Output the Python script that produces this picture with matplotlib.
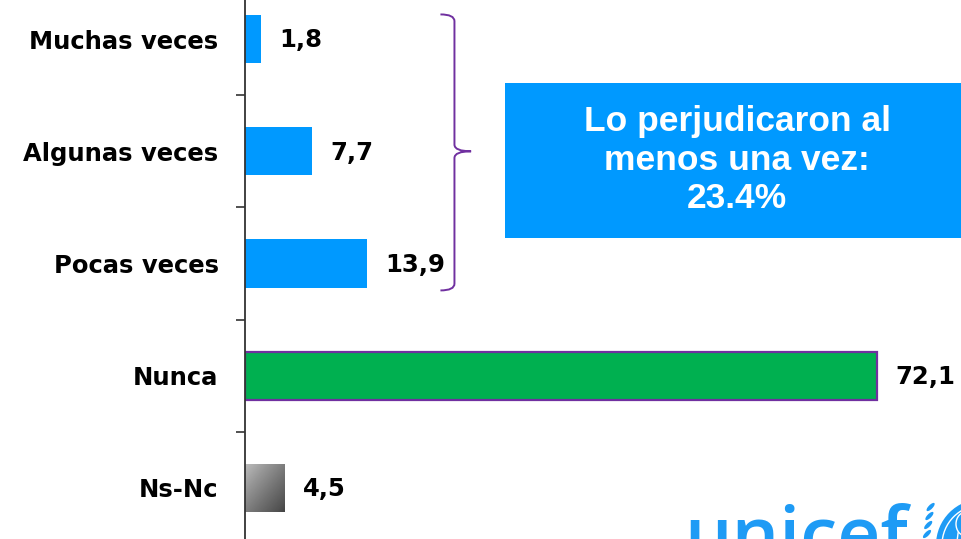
"""Horizontal bars: how often they were harmed (UNICEF survey slide)."""

import numpy as np
import matplotlib.pyplot as plt
from matplotlib.patches import Rectangle, Ellipse, PathPatch
from matplotlib.path import Path

categories = ["Muchas veces", "Algunas veces", "Pocas veces", "Nunca", "Ns-Nc"]
values = [1.8, 7.7, 13.9, 72.1, 4.5]
colors = ["#0099FF", "#0099FF", "#0099FF", "#00B050", None]
box_text = "Lo perjudicaron al\nmenos una vez:\n23.4%"

BLUE = "#0099FF"
PURPLE = "#7030A0"
LOGO = "#1E9BF5"

W, H = 961, 539
fig = plt.figure(figsize=(W / 100, H / 100), dpi=100)
# axes runs past the top/bottom/right of the slide crop
ax = fig.add_axes([245 / W, -5 / H, (W - 245) / W, 561 / H])

y = np.arange(len(categories))
bars = ax.barh(y, values, height=0.43, color=[c or "none" for c in colors],
               edgecolor="none", zorder=2)
bars[3].set_edgecolor(PURPLE)
bars[3].set_linewidth(1.6)

# gradient fill for the Ns-Nc bar
gb = bars[4]
gx, gy = gb.get_x(), gb.get_y()
gw, gh = gb.get_width(), gb.get_height()
xx, yy = np.meshgrid(np.linspace(0, 1, 64), np.linspace(0, 1, 64))
grad = (xx + yy) / 2
im = ax.imshow(grad, cmap="Greys", vmin=-0.9, vmax=1.5, aspect="auto",
               extent=[gx, gx + gw, gy + gh, gy], origin="upper", zorder=2)
im.set_clip_path(gb)

ax.set_xlim(0, 81.7)
ax.set_ylim(len(categories) - 0.5, -0.5)

for i, v in enumerate(values):
    ax.annotate(f"{v:.1f}".replace(".", ","), (v, i), xytext=(13, -1),
                textcoords="offset points", va="center", ha="left",
                fontsize=17.5, fontweight="bold", family="DejaVu Sans")

ax.set_yticks(y, categories, fontsize=17.5, fontweight="bold", family="DejaVu Sans")
ax.tick_params(axis="y", which="major", length=0, pad=19)
ax.set_yticks(np.arange(-0.5, len(categories), 1), minor=True)
ax.tick_params(axis="y", which="minor", length=6.5, width=1.2, color="#333333")
ax.set_xticks([])
for s in ["top", "right", "bottom"]:
    ax.spines[s].set_visible(False)
ax.spines["left"].set_color("#333333")
ax.spines["left"].set_linewidth(1.3)

# curly brace over the first three bars
bx, hook, tip = 23.9, 22.3, 25.8
top, mid, bot = -0.22, 1.0, 2.24
r = 0.06
verts = [
    (hook, top), (bx, top), (bx, top + r),
    (bx, mid - r), (bx, mid), (tip, mid),
    (bx, mid), (bx, mid + r),
    (bx, bot - r), (bx, bot), (hook, bot),
]
codes = [Path.MOVETO, Path.CURVE3, Path.CURVE3,
         Path.LINETO, Path.CURVE3, Path.CURVE3,
         Path.CURVE3, Path.CURVE3,
         Path.LINETO, Path.CURVE3, Path.CURVE3]
ax.add_patch(PathPatch(Path(verts, codes), facecolor="none",
                       edgecolor=PURPLE, lw=1.4, zorder=3))

# summary box
fig.patches.append(Rectangle((505 / W, 1 - 238 / H), (W - 505) / W, 155 / H,
                             transform=fig.transFigure, facecolor=BLUE,
                             edgecolor="none", zorder=1))
fig.text(737 / W, 1 - 160 / H, box_text, ha="center", va="center",
         color="white", fontsize=25.5, fontweight="bold",
         family="Liberation Sans", linespacing=1.22)

# unicef logo, cut off at the bottom right
fig.text(684 / W, 1 - 559 / H, "unicef", color=LOGO, fontsize=54,
         fontweight="semibold", family="Open Sans", ha="left", va="baseline")


def logo_ellipse(px, py, w, h, **kw):
    fig.patches.append(Ellipse((px / W, 1 - py / H), w / W, h / H,
                               transform=fig.transFigure, **kw))


logo_ellipse(982, 545, 92, 92, facecolor=LOGO, edgecolor="none")
logo_ellipse(982, 545, 80, 80, facecolor="none", edgecolor="white", lw=1.0)
logo_ellipse(982, 545, 50, 80, facecolor="none", edgecolor="white", lw=1.0)
logo_ellipse(982, 545, 20, 80, facecolor="none", edgecolor="white", lw=1.0)
logo_ellipse(966, 524, 20, 24, facecolor=LOGO, edgecolor="white", lw=1.0)
for k in range(4):
    logo_ellipse(927 + k * 1.2, 534 - k * 9, 5, 9, angle=-25, facecolor=LOGO)

fig.savefig("out.png", dpi=100)
